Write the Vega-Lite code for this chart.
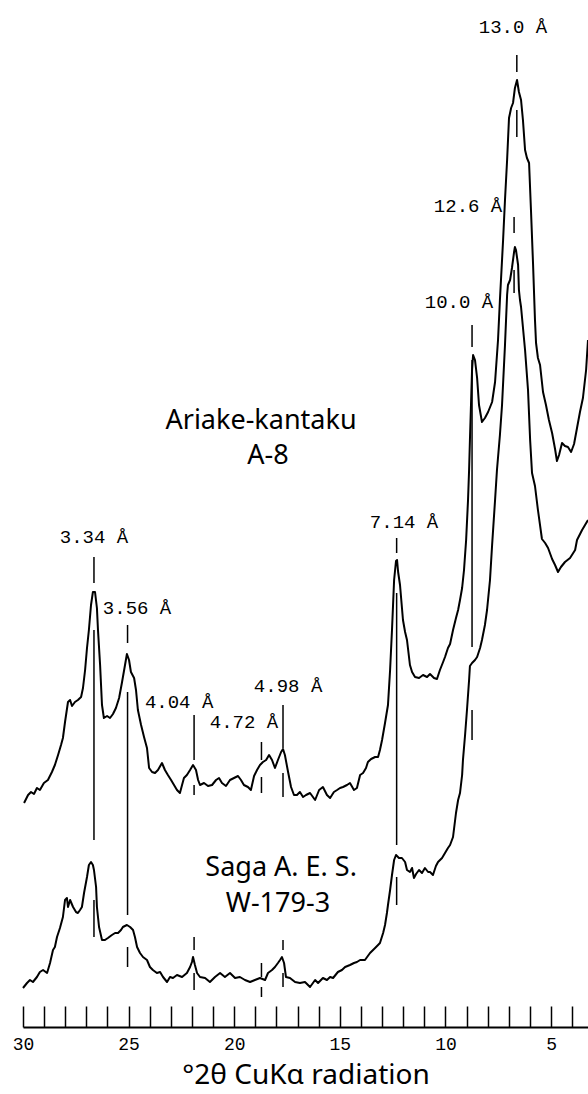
{
  "$schema": "https://vega.github.io/schema/vega-lite/v6.json",
  "width": 565,
  "height": 1027,
  "autosize": {"type": "none"},
  "padding": {"left": 23, "top": 0, "right": 0, "bottom": 67},
  "background": "white",
  "config": {"view": {"stroke": null}},
  "datasets": {
    "traces": [
      {"sample": "A-8", "theta": 29.95, "intensity": 224},
      {"sample": "A-8", "theta": 29.76, "intensity": 232},
      {"sample": "A-8", "theta": 29.62, "intensity": 235},
      {"sample": "A-8", "theta": 29.48, "intensity": 233},
      {"sample": "A-8", "theta": 29.34, "intensity": 239},
      {"sample": "A-8", "theta": 29.20, "intensity": 237},
      {"sample": "A-8", "theta": 29.01, "intensity": 244},
      {"sample": "A-8", "theta": 28.82, "intensity": 247},
      {"sample": "A-8", "theta": 28.63, "intensity": 255},
      {"sample": "A-8", "theta": 28.49, "intensity": 262},
      {"sample": "A-8", "theta": 28.34, "intensity": 272},
      {"sample": "A-8", "theta": 28.20, "intensity": 282},
      {"sample": "A-8", "theta": 28.11, "intensity": 289},
      {"sample": "A-8", "theta": 28.01, "intensity": 305},
      {"sample": "A-8", "theta": 27.87, "intensity": 325},
      {"sample": "A-8", "theta": 27.77, "intensity": 327},
      {"sample": "A-8", "theta": 27.68, "intensity": 321},
      {"sample": "A-8", "theta": 27.54, "intensity": 325},
      {"sample": "A-8", "theta": 27.40, "intensity": 327},
      {"sample": "A-8", "theta": 27.25, "intensity": 330},
      {"sample": "A-8", "theta": 27.16, "intensity": 339},
      {"sample": "A-8", "theta": 27.06, "intensity": 357},
      {"sample": "A-8", "theta": 26.97, "intensity": 379},
      {"sample": "A-8", "theta": 26.88, "intensity": 397},
      {"sample": "A-8", "theta": 26.78, "intensity": 422},
      {"sample": "A-8", "theta": 26.69, "intensity": 435},
      {"sample": "A-8", "theta": 26.59, "intensity": 435},
      {"sample": "A-8", "theta": 26.50, "intensity": 419},
      {"sample": "A-8", "theta": 26.45, "intensity": 397},
      {"sample": "A-8", "theta": 26.35, "intensity": 362},
      {"sample": "A-8", "theta": 26.26, "intensity": 322},
      {"sample": "A-8", "theta": 26.17, "intensity": 309},
      {"sample": "A-8", "theta": 26.02, "intensity": 311},
      {"sample": "A-8", "theta": 25.88, "intensity": 309},
      {"sample": "A-8", "theta": 25.74, "intensity": 313},
      {"sample": "A-8", "theta": 25.60, "intensity": 319},
      {"sample": "A-8", "theta": 25.45, "intensity": 329},
      {"sample": "A-8", "theta": 25.31, "intensity": 345},
      {"sample": "A-8", "theta": 25.17, "intensity": 362},
      {"sample": "A-8", "theta": 25.08, "intensity": 373},
      {"sample": "A-8", "theta": 24.98, "intensity": 367},
      {"sample": "A-8", "theta": 24.89, "intensity": 355},
      {"sample": "A-8", "theta": 24.74, "intensity": 349},
      {"sample": "A-8", "theta": 24.65, "intensity": 337},
      {"sample": "A-8", "theta": 24.56, "intensity": 317},
      {"sample": "A-8", "theta": 24.41, "intensity": 302},
      {"sample": "A-8", "theta": 24.27, "intensity": 290},
      {"sample": "A-8", "theta": 24.13, "intensity": 279},
      {"sample": "A-8", "theta": 24.03, "intensity": 259},
      {"sample": "A-8", "theta": 23.89, "intensity": 255},
      {"sample": "A-8", "theta": 23.75, "intensity": 254},
      {"sample": "A-8", "theta": 23.61, "intensity": 257},
      {"sample": "A-8", "theta": 23.42, "intensity": 264},
      {"sample": "A-8", "theta": 23.28, "intensity": 257},
      {"sample": "A-8", "theta": 23.14, "intensity": 252},
      {"sample": "A-8", "theta": 22.99, "intensity": 247},
      {"sample": "A-8", "theta": 22.85, "intensity": 242},
      {"sample": "A-8", "theta": 22.71, "intensity": 237},
      {"sample": "A-8", "theta": 22.57, "intensity": 234},
      {"sample": "A-8", "theta": 22.47, "intensity": 242},
      {"sample": "A-8", "theta": 22.38, "intensity": 249},
      {"sample": "A-8", "theta": 22.24, "intensity": 252},
      {"sample": "A-8", "theta": 22.09, "intensity": 257},
      {"sample": "A-8", "theta": 21.95, "intensity": 262},
      {"sample": "A-8", "theta": 21.81, "intensity": 257},
      {"sample": "A-8", "theta": 21.71, "intensity": 247},
      {"sample": "A-8", "theta": 21.62, "intensity": 242},
      {"sample": "A-8", "theta": 21.43, "intensity": 244},
      {"sample": "A-8", "theta": 21.24, "intensity": 241},
      {"sample": "A-8", "theta": 21.05, "intensity": 242},
      {"sample": "A-8", "theta": 20.86, "intensity": 247},
      {"sample": "A-8", "theta": 20.72, "intensity": 249},
      {"sample": "A-8", "theta": 20.58, "intensity": 244},
      {"sample": "A-8", "theta": 20.39, "intensity": 241},
      {"sample": "A-8", "theta": 20.20, "intensity": 247},
      {"sample": "A-8", "theta": 20.01, "intensity": 249},
      {"sample": "A-8", "theta": 19.82, "intensity": 251},
      {"sample": "A-8", "theta": 19.68, "intensity": 247},
      {"sample": "A-8", "theta": 19.54, "intensity": 242},
      {"sample": "A-8", "theta": 19.35, "intensity": 240},
      {"sample": "A-8", "theta": 19.21, "intensity": 237},
      {"sample": "A-8", "theta": 19.06, "intensity": 251},
      {"sample": "A-8", "theta": 18.92, "intensity": 257},
      {"sample": "A-8", "theta": 18.78, "intensity": 262},
      {"sample": "A-8", "theta": 18.64, "intensity": 265},
      {"sample": "A-8", "theta": 18.49, "intensity": 267},
      {"sample": "A-8", "theta": 18.35, "intensity": 272},
      {"sample": "A-8", "theta": 18.21, "intensity": 267},
      {"sample": "A-8", "theta": 18.07, "intensity": 259},
      {"sample": "A-8", "theta": 17.93, "intensity": 267},
      {"sample": "A-8", "theta": 17.78, "intensity": 275},
      {"sample": "A-8", "theta": 17.69, "intensity": 278},
      {"sample": "A-8", "theta": 17.60, "intensity": 272},
      {"sample": "A-8", "theta": 17.45, "intensity": 255},
      {"sample": "A-8", "theta": 17.31, "intensity": 240},
      {"sample": "A-8", "theta": 17.17, "intensity": 232},
      {"sample": "A-8", "theta": 17.03, "intensity": 232},
      {"sample": "A-8", "theta": 16.89, "intensity": 235},
      {"sample": "A-8", "theta": 16.74, "intensity": 230},
      {"sample": "A-8", "theta": 16.60, "intensity": 232},
      {"sample": "A-8", "theta": 16.41, "intensity": 234},
      {"sample": "A-8", "theta": 16.17, "intensity": 227},
      {"sample": "A-8", "theta": 15.98, "intensity": 237},
      {"sample": "A-8", "theta": 15.80, "intensity": 240},
      {"sample": "A-8", "theta": 15.61, "intensity": 232},
      {"sample": "A-8", "theta": 15.46, "intensity": 229},
      {"sample": "A-8", "theta": 15.28, "intensity": 235},
      {"sample": "A-8", "theta": 15.13, "intensity": 237},
      {"sample": "A-8", "theta": 14.99, "intensity": 239},
      {"sample": "A-8", "theta": 14.85, "intensity": 240},
      {"sample": "A-8", "theta": 14.66, "intensity": 242},
      {"sample": "A-8", "theta": 14.52, "intensity": 244},
      {"sample": "A-8", "theta": 14.33, "intensity": 237},
      {"sample": "A-8", "theta": 14.19, "intensity": 239},
      {"sample": "A-8", "theta": 14.04, "intensity": 252},
      {"sample": "A-8", "theta": 13.90, "intensity": 254},
      {"sample": "A-8", "theta": 13.76, "intensity": 259},
      {"sample": "A-8", "theta": 13.67, "intensity": 265},
      {"sample": "A-8", "theta": 13.52, "intensity": 268},
      {"sample": "A-8", "theta": 13.33, "intensity": 270},
      {"sample": "A-8", "theta": 13.19, "intensity": 270},
      {"sample": "A-8", "theta": 13.10, "intensity": 277},
      {"sample": "A-8", "theta": 13.00, "intensity": 287},
      {"sample": "A-8", "theta": 12.86, "intensity": 304},
      {"sample": "A-8", "theta": 12.72, "intensity": 322},
      {"sample": "A-8", "theta": 12.62, "intensity": 357},
      {"sample": "A-8", "theta": 12.53, "intensity": 397},
      {"sample": "A-8", "theta": 12.48, "intensity": 422},
      {"sample": "A-8", "theta": 12.43, "intensity": 447},
      {"sample": "A-8", "theta": 12.34, "intensity": 466},
      {"sample": "A-8", "theta": 12.29, "intensity": 467},
      {"sample": "A-8", "theta": 12.24, "intensity": 455},
      {"sample": "A-8", "theta": 12.15, "intensity": 442},
      {"sample": "A-8", "theta": 12.01, "intensity": 407},
      {"sample": "A-8", "theta": 11.91, "intensity": 395},
      {"sample": "A-8", "theta": 11.82, "intensity": 387},
      {"sample": "A-8", "theta": 11.68, "intensity": 362},
      {"sample": "A-8", "theta": 11.58, "intensity": 355},
      {"sample": "A-8", "theta": 11.44, "intensity": 350},
      {"sample": "A-8", "theta": 11.25, "intensity": 349},
      {"sample": "A-8", "theta": 11.06, "intensity": 352},
      {"sample": "A-8", "theta": 10.87, "intensity": 350},
      {"sample": "A-8", "theta": 10.73, "intensity": 353},
      {"sample": "A-8", "theta": 10.54, "intensity": 349},
      {"sample": "A-8", "theta": 10.40, "intensity": 348},
      {"sample": "A-8", "theta": 10.26, "intensity": 357},
      {"sample": "A-8", "theta": 10.11, "intensity": 365},
      {"sample": "A-8", "theta": 10.02, "intensity": 370},
      {"sample": "A-8", "theta": 9.88, "intensity": 379},
      {"sample": "A-8", "theta": 9.78, "intensity": 383},
      {"sample": "A-8", "theta": 9.64, "intensity": 397},
      {"sample": "A-8", "theta": 9.50, "intensity": 409},
      {"sample": "A-8", "theta": 9.40, "intensity": 417},
      {"sample": "A-8", "theta": 9.31, "intensity": 427},
      {"sample": "A-8", "theta": 9.21, "intensity": 439},
      {"sample": "A-8", "theta": 9.12, "intensity": 457},
      {"sample": "A-8", "theta": 9.02, "intensity": 487},
      {"sample": "A-8", "theta": 8.93, "intensity": 527},
      {"sample": "A-8", "theta": 8.88, "intensity": 557},
      {"sample": "A-8", "theta": 8.84, "intensity": 587},
      {"sample": "A-8", "theta": 8.79, "intensity": 622},
      {"sample": "A-8", "theta": 8.74, "intensity": 657},
      {"sample": "A-8", "theta": 8.69, "intensity": 672},
      {"sample": "A-8", "theta": 8.60, "intensity": 667},
      {"sample": "A-8", "theta": 8.50, "intensity": 649},
      {"sample": "A-8", "theta": 8.41, "intensity": 622},
      {"sample": "A-8", "theta": 8.27, "intensity": 605},
      {"sample": "A-8", "theta": 8.13, "intensity": 609},
      {"sample": "A-8", "theta": 7.98, "intensity": 615},
      {"sample": "A-8", "theta": 7.79, "intensity": 625},
      {"sample": "A-8", "theta": 7.65, "intensity": 645},
      {"sample": "A-8", "theta": 7.51, "intensity": 687},
      {"sample": "A-8", "theta": 7.42, "intensity": 727},
      {"sample": "A-8", "theta": 7.27, "intensity": 787},
      {"sample": "A-8", "theta": 7.18, "intensity": 827},
      {"sample": "A-8", "theta": 7.08, "intensity": 867},
      {"sample": "A-8", "theta": 6.99, "intensity": 909},
      {"sample": "A-8", "theta": 6.89, "intensity": 919},
      {"sample": "A-8", "theta": 6.80, "intensity": 924},
      {"sample": "A-8", "theta": 6.71, "intensity": 939},
      {"sample": "A-8", "theta": 6.61, "intensity": 947},
      {"sample": "A-8", "theta": 6.52, "intensity": 935},
      {"sample": "A-8", "theta": 6.42, "intensity": 927},
      {"sample": "A-8", "theta": 6.33, "intensity": 907},
      {"sample": "A-8", "theta": 6.23, "intensity": 877},
      {"sample": "A-8", "theta": 6.14, "intensity": 869},
      {"sample": "A-8", "theta": 6.04, "intensity": 864},
      {"sample": "A-8", "theta": 5.95, "intensity": 817},
      {"sample": "A-8", "theta": 5.85, "intensity": 762},
      {"sample": "A-8", "theta": 5.76, "intensity": 707},
      {"sample": "A-8", "theta": 5.71, "intensity": 684},
      {"sample": "A-8", "theta": 5.62, "intensity": 669},
      {"sample": "A-8", "theta": 5.52, "intensity": 662},
      {"sample": "A-8", "theta": 5.38, "intensity": 635},
      {"sample": "A-8", "theta": 5.24, "intensity": 622},
      {"sample": "A-8", "theta": 5.10, "intensity": 607},
      {"sample": "A-8", "theta": 4.95, "intensity": 594},
      {"sample": "A-8", "theta": 4.81, "intensity": 578},
      {"sample": "A-8", "theta": 4.72, "intensity": 566},
      {"sample": "A-8", "theta": 4.62, "intensity": 572},
      {"sample": "A-8", "theta": 4.48, "intensity": 584},
      {"sample": "A-8", "theta": 4.34, "intensity": 581},
      {"sample": "A-8", "theta": 4.20, "intensity": 580},
      {"sample": "A-8", "theta": 4.05, "intensity": 575},
      {"sample": "A-8", "theta": 3.91, "intensity": 583},
      {"sample": "A-8", "theta": 3.77, "intensity": 599},
      {"sample": "A-8", "theta": 3.63, "intensity": 615},
      {"sample": "A-8", "theta": 3.49, "intensity": 629},
      {"sample": "A-8", "theta": 3.34, "intensity": 657},
      {"sample": "A-8", "theta": 3.25, "intensity": 687},
      {"sample": "W-179-3", "theta": 30.00, "intensity": 39},
      {"sample": "W-179-3", "theta": 29.81, "intensity": 44},
      {"sample": "W-179-3", "theta": 29.67, "intensity": 47},
      {"sample": "W-179-3", "theta": 29.53, "intensity": 45},
      {"sample": "W-179-3", "theta": 29.34, "intensity": 50},
      {"sample": "W-179-3", "theta": 29.20, "intensity": 55},
      {"sample": "W-179-3", "theta": 29.05, "intensity": 57},
      {"sample": "W-179-3", "theta": 28.86, "intensity": 54},
      {"sample": "W-179-3", "theta": 28.72, "intensity": 64},
      {"sample": "W-179-3", "theta": 28.58, "intensity": 77},
      {"sample": "W-179-3", "theta": 28.49, "intensity": 80},
      {"sample": "W-179-3", "theta": 28.39, "intensity": 90},
      {"sample": "W-179-3", "theta": 28.25, "intensity": 99},
      {"sample": "W-179-3", "theta": 28.11, "intensity": 110},
      {"sample": "W-179-3", "theta": 28.01, "intensity": 127},
      {"sample": "W-179-3", "theta": 27.92, "intensity": 129},
      {"sample": "W-179-3", "theta": 27.87, "intensity": 120},
      {"sample": "W-179-3", "theta": 27.77, "intensity": 127},
      {"sample": "W-179-3", "theta": 27.63, "intensity": 120},
      {"sample": "W-179-3", "theta": 27.49, "intensity": 115},
      {"sample": "W-179-3", "theta": 27.40, "intensity": 114},
      {"sample": "W-179-3", "theta": 27.30, "intensity": 117},
      {"sample": "W-179-3", "theta": 27.21, "intensity": 120},
      {"sample": "W-179-3", "theta": 27.11, "intensity": 134},
      {"sample": "W-179-3", "theta": 26.97, "intensity": 150},
      {"sample": "W-179-3", "theta": 26.88, "intensity": 162},
      {"sample": "W-179-3", "theta": 26.78, "intensity": 165},
      {"sample": "W-179-3", "theta": 26.69, "intensity": 162},
      {"sample": "W-179-3", "theta": 26.64, "intensity": 157},
      {"sample": "W-179-3", "theta": 26.54, "intensity": 140},
      {"sample": "W-179-3", "theta": 26.50, "intensity": 120},
      {"sample": "W-179-3", "theta": 26.40, "intensity": 100},
      {"sample": "W-179-3", "theta": 26.26, "intensity": 87},
      {"sample": "W-179-3", "theta": 26.12, "intensity": 87},
      {"sample": "W-179-3", "theta": 25.98, "intensity": 89},
      {"sample": "W-179-3", "theta": 25.79, "intensity": 92},
      {"sample": "W-179-3", "theta": 25.64, "intensity": 94},
      {"sample": "W-179-3", "theta": 25.50, "intensity": 94},
      {"sample": "W-179-3", "theta": 25.36, "intensity": 97},
      {"sample": "W-179-3", "theta": 25.27, "intensity": 100},
      {"sample": "W-179-3", "theta": 25.08, "intensity": 102},
      {"sample": "W-179-3", "theta": 24.93, "intensity": 100},
      {"sample": "W-179-3", "theta": 24.79, "intensity": 97},
      {"sample": "W-179-3", "theta": 24.70, "intensity": 90},
      {"sample": "W-179-3", "theta": 24.60, "intensity": 80},
      {"sample": "W-179-3", "theta": 24.46, "intensity": 74},
      {"sample": "W-179-3", "theta": 24.32, "intensity": 70},
      {"sample": "W-179-3", "theta": 24.13, "intensity": 67},
      {"sample": "W-179-3", "theta": 23.99, "intensity": 60},
      {"sample": "W-179-3", "theta": 23.85, "intensity": 57},
      {"sample": "W-179-3", "theta": 23.66, "intensity": 54},
      {"sample": "W-179-3", "theta": 23.51, "intensity": 55},
      {"sample": "W-179-3", "theta": 23.37, "intensity": 50},
      {"sample": "W-179-3", "theta": 23.18, "intensity": 45},
      {"sample": "W-179-3", "theta": 23.04, "intensity": 50},
      {"sample": "W-179-3", "theta": 22.90, "intensity": 49},
      {"sample": "W-179-3", "theta": 22.71, "intensity": 52},
      {"sample": "W-179-3", "theta": 22.47, "intensity": 50},
      {"sample": "W-179-3", "theta": 22.24, "intensity": 54},
      {"sample": "W-179-3", "theta": 22.09, "intensity": 60},
      {"sample": "W-179-3", "theta": 22.00, "intensity": 65},
      {"sample": "W-179-3", "theta": 21.95, "intensity": 70},
      {"sample": "W-179-3", "theta": 21.86, "intensity": 62},
      {"sample": "W-179-3", "theta": 21.76, "intensity": 54},
      {"sample": "W-179-3", "theta": 21.62, "intensity": 50},
      {"sample": "W-179-3", "theta": 21.38, "intensity": 49},
      {"sample": "W-179-3", "theta": 21.15, "intensity": 45},
      {"sample": "W-179-3", "theta": 20.91, "intensity": 50},
      {"sample": "W-179-3", "theta": 20.67, "intensity": 54},
      {"sample": "W-179-3", "theta": 20.44, "intensity": 50},
      {"sample": "W-179-3", "theta": 20.20, "intensity": 54},
      {"sample": "W-179-3", "theta": 19.96, "intensity": 49},
      {"sample": "W-179-3", "theta": 19.73, "intensity": 50},
      {"sample": "W-179-3", "theta": 19.49, "intensity": 47},
      {"sample": "W-179-3", "theta": 19.25, "intensity": 45},
      {"sample": "W-179-3", "theta": 19.02, "intensity": 47},
      {"sample": "W-179-3", "theta": 18.78, "intensity": 49},
      {"sample": "W-179-3", "theta": 18.54, "intensity": 47},
      {"sample": "W-179-3", "theta": 18.40, "intensity": 54},
      {"sample": "W-179-3", "theta": 18.21, "intensity": 57},
      {"sample": "W-179-3", "theta": 18.07, "intensity": 60},
      {"sample": "W-179-3", "theta": 17.93, "intensity": 64},
      {"sample": "W-179-3", "theta": 17.83, "intensity": 67},
      {"sample": "W-179-3", "theta": 17.74, "intensity": 70},
      {"sample": "W-179-3", "theta": 17.64, "intensity": 64},
      {"sample": "W-179-3", "theta": 17.55, "intensity": 50},
      {"sample": "W-179-3", "theta": 17.36, "intensity": 49},
      {"sample": "W-179-3", "theta": 17.12, "intensity": 45},
      {"sample": "W-179-3", "theta": 16.89, "intensity": 44},
      {"sample": "W-179-3", "theta": 16.65, "intensity": 45},
      {"sample": "W-179-3", "theta": 16.41, "intensity": 40},
      {"sample": "W-179-3", "theta": 16.17, "intensity": 47},
      {"sample": "W-179-3", "theta": 16.03, "intensity": 44},
      {"sample": "W-179-3", "theta": 15.80, "intensity": 49},
      {"sample": "W-179-3", "theta": 15.61, "intensity": 47},
      {"sample": "W-179-3", "theta": 15.46, "intensity": 50},
      {"sample": "W-179-3", "theta": 15.32, "intensity": 49},
      {"sample": "W-179-3", "theta": 15.09, "intensity": 55},
      {"sample": "W-179-3", "theta": 14.90, "intensity": 57},
      {"sample": "W-179-3", "theta": 14.75, "intensity": 60},
      {"sample": "W-179-3", "theta": 14.52, "intensity": 62},
      {"sample": "W-179-3", "theta": 14.33, "intensity": 64},
      {"sample": "W-179-3", "theta": 14.19, "intensity": 65},
      {"sample": "W-179-3", "theta": 14.04, "intensity": 67},
      {"sample": "W-179-3", "theta": 13.81, "intensity": 67},
      {"sample": "W-179-3", "theta": 13.57, "intensity": 74},
      {"sample": "W-179-3", "theta": 13.33, "intensity": 79},
      {"sample": "W-179-3", "theta": 13.19, "intensity": 82},
      {"sample": "W-179-3", "theta": 13.10, "intensity": 84},
      {"sample": "W-179-3", "theta": 12.95, "intensity": 94},
      {"sample": "W-179-3", "theta": 12.86, "intensity": 102},
      {"sample": "W-179-3", "theta": 12.77, "intensity": 114},
      {"sample": "W-179-3", "theta": 12.72, "intensity": 122},
      {"sample": "W-179-3", "theta": 12.62, "intensity": 137},
      {"sample": "W-179-3", "theta": 12.53, "intensity": 152},
      {"sample": "W-179-3", "theta": 12.43, "intensity": 167},
      {"sample": "W-179-3", "theta": 12.34, "intensity": 172},
      {"sample": "W-179-3", "theta": 12.20, "intensity": 169},
      {"sample": "W-179-3", "theta": 12.06, "intensity": 169},
      {"sample": "W-179-3", "theta": 11.91, "intensity": 165},
      {"sample": "W-179-3", "theta": 11.82, "intensity": 157},
      {"sample": "W-179-3", "theta": 11.68, "intensity": 155},
      {"sample": "W-179-3", "theta": 11.58, "intensity": 159},
      {"sample": "W-179-3", "theta": 11.49, "intensity": 149},
      {"sample": "W-179-3", "theta": 11.39, "intensity": 153},
      {"sample": "W-179-3", "theta": 11.25, "intensity": 157},
      {"sample": "W-179-3", "theta": 11.11, "intensity": 154},
      {"sample": "W-179-3", "theta": 10.97, "intensity": 159},
      {"sample": "W-179-3", "theta": 10.82, "intensity": 155},
      {"sample": "W-179-3", "theta": 10.73, "intensity": 155},
      {"sample": "W-179-3", "theta": 10.59, "intensity": 152},
      {"sample": "W-179-3", "theta": 10.45, "intensity": 161},
      {"sample": "W-179-3", "theta": 10.35, "intensity": 165},
      {"sample": "W-179-3", "theta": 10.16, "intensity": 169},
      {"sample": "W-179-3", "theta": 10.02, "intensity": 174},
      {"sample": "W-179-3", "theta": 9.88, "intensity": 179},
      {"sample": "W-179-3", "theta": 9.78, "intensity": 182},
      {"sample": "W-179-3", "theta": 9.64, "intensity": 190},
      {"sample": "W-179-3", "theta": 9.50, "intensity": 214},
      {"sample": "W-179-3", "theta": 9.40, "intensity": 227},
      {"sample": "W-179-3", "theta": 9.31, "intensity": 234},
      {"sample": "W-179-3", "theta": 9.21, "intensity": 252},
      {"sample": "W-179-3", "theta": 9.17, "intensity": 267},
      {"sample": "W-179-3", "theta": 9.07, "intensity": 292},
      {"sample": "W-179-3", "theta": 8.98, "intensity": 317},
      {"sample": "W-179-3", "theta": 8.88, "intensity": 347},
      {"sample": "W-179-3", "theta": 8.84, "intensity": 361},
      {"sample": "W-179-3", "theta": 8.74, "intensity": 364},
      {"sample": "W-179-3", "theta": 8.60, "intensity": 367},
      {"sample": "W-179-3", "theta": 8.50, "intensity": 370},
      {"sample": "W-179-3", "theta": 8.36, "intensity": 379},
      {"sample": "W-179-3", "theta": 8.27, "intensity": 387},
      {"sample": "W-179-3", "theta": 8.13, "intensity": 402},
      {"sample": "W-179-3", "theta": 8.03, "intensity": 417},
      {"sample": "W-179-3", "theta": 7.89, "intensity": 447},
      {"sample": "W-179-3", "theta": 7.79, "intensity": 482},
      {"sample": "W-179-3", "theta": 7.65, "intensity": 527},
      {"sample": "W-179-3", "theta": 7.56, "intensity": 557},
      {"sample": "W-179-3", "theta": 7.42, "intensity": 592},
      {"sample": "W-179-3", "theta": 7.32, "intensity": 622},
      {"sample": "W-179-3", "theta": 7.18, "intensity": 682},
      {"sample": "W-179-3", "theta": 7.08, "intensity": 732},
      {"sample": "W-179-3", "theta": 7.04, "intensity": 742},
      {"sample": "W-179-3", "theta": 6.94, "intensity": 747},
      {"sample": "W-179-3", "theta": 6.85, "intensity": 759},
      {"sample": "W-179-3", "theta": 6.75, "intensity": 775},
      {"sample": "W-179-3", "theta": 6.71, "intensity": 780},
      {"sample": "W-179-3", "theta": 6.66, "intensity": 777},
      {"sample": "W-179-3", "theta": 6.56, "intensity": 762},
      {"sample": "W-179-3", "theta": 6.52, "intensity": 737},
      {"sample": "W-179-3", "theta": 6.47, "intensity": 727},
      {"sample": "W-179-3", "theta": 6.42, "intensity": 720},
      {"sample": "W-179-3", "theta": 6.23, "intensity": 677},
      {"sample": "W-179-3", "theta": 6.09, "intensity": 637},
      {"sample": "W-179-3", "theta": 5.99, "intensity": 587},
      {"sample": "W-179-3", "theta": 5.90, "intensity": 554},
      {"sample": "W-179-3", "theta": 5.76, "intensity": 541},
      {"sample": "W-179-3", "theta": 5.62, "intensity": 517},
      {"sample": "W-179-3", "theta": 5.43, "intensity": 488},
      {"sample": "W-179-3", "theta": 5.28, "intensity": 484},
      {"sample": "W-179-3", "theta": 5.14, "intensity": 479},
      {"sample": "W-179-3", "theta": 4.95, "intensity": 468},
      {"sample": "W-179-3", "theta": 4.81, "intensity": 462},
      {"sample": "W-179-3", "theta": 4.67, "intensity": 455},
      {"sample": "W-179-3", "theta": 4.53, "intensity": 460},
      {"sample": "W-179-3", "theta": 4.34, "intensity": 465},
      {"sample": "W-179-3", "theta": 4.10, "intensity": 469},
      {"sample": "W-179-3", "theta": 3.86, "intensity": 477},
      {"sample": "W-179-3", "theta": 3.77, "intensity": 487},
      {"sample": "W-179-3", "theta": 3.53, "intensity": 497},
      {"sample": "W-179-3", "theta": 3.39, "intensity": 502},
      {"sample": "W-179-3", "theta": 3.25, "intensity": 507}
    ],
    "marks": [
      {"peak": "3.34", "theta": 26.64, "lo": 444, "hi": 470},
      {"peak": "3.34", "theta": 26.64, "lo": 187, "hi": 397},
      {"peak": "3.34", "theta": 26.64, "lo": 90, "hi": 127},
      {"peak": "3.56", "theta": 25.05, "lo": 384, "hi": 402},
      {"peak": "3.56", "theta": 25.05, "lo": 112, "hi": 335},
      {"peak": "3.56", "theta": 25.05, "lo": 60, "hi": 80},
      {"peak": "4.04", "theta": 21.90, "lo": 267, "hi": 312},
      {"peak": "4.04", "theta": 21.90, "lo": 232, "hi": 242},
      {"peak": "4.04", "theta": 21.90, "lo": 77, "hi": 90},
      {"peak": "4.04", "theta": 21.90, "lo": 37, "hi": 54},
      {"peak": "4.72", "theta": 18.71, "lo": 267, "hi": 285},
      {"peak": "4.72", "theta": 18.71, "lo": 234, "hi": 250},
      {"peak": "4.72", "theta": 18.71, "lo": 50, "hi": 64},
      {"peak": "4.72", "theta": 18.71, "lo": 30, "hi": 40},
      {"peak": "4.98", "theta": 17.69, "lo": 279, "hi": 322},
      {"peak": "4.98", "theta": 17.69, "lo": 230, "hi": 254},
      {"peak": "4.98", "theta": 17.69, "lo": 77, "hi": 87},
      {"peak": "4.98", "theta": 17.69, "lo": 40, "hi": 54},
      {"peak": "7.14", "theta": 12.31, "lo": 474, "hi": 489},
      {"peak": "7.14", "theta": 12.31, "lo": 182, "hi": 434},
      {"peak": "7.14", "theta": 12.31, "lo": 122, "hi": 150},
      {"peak": "10.0", "theta": 8.74, "lo": 680, "hi": 702},
      {"peak": "10.0", "theta": 8.74, "lo": 380, "hi": 667},
      {"peak": "10.0", "theta": 8.74, "lo": 287, "hi": 317},
      {"peak": "13.0", "theta": 6.62, "lo": 955, "hi": 972},
      {"peak": "13.0", "theta": 6.62, "lo": 890, "hi": 917},
      {"peak": "12.6", "theta": 6.75, "lo": 794, "hi": 810},
      {"peak": "12.6", "theta": 6.75, "lo": 734, "hi": 757}
    ],
    "dlabels": [
      {"text": "13.0 Å", "theta": 6.80, "intensity": 1000},
      {"text": "12.6 Å", "theta": 8.93, "intensity": 821},
      {"text": "10.0 Å", "theta": 9.36, "intensity": 725},
      {"text": "7.14 Å", "theta": 11.96, "intensity": 505},
      {"text": "3.34 Å", "theta": 26.64, "intensity": 490},
      {"text": "3.56 Å", "theta": 24.60, "intensity": 419},
      {"text": "4.04 Å", "theta": 22.61, "intensity": 325},
      {"text": "4.72 Å", "theta": 19.54, "intensity": 305},
      {"text": "4.98 Å", "theta": 17.45, "intensity": 341}
    ],
    "names": [
      {"text": "Ariake-kantaku", "theta": 18.73, "intensity": 606},
      {"text": "A-8", "theta": 18.40, "intensity": 571},
      {"text": "Saga A. E. S.", "theta": 17.78, "intensity": 159},
      {"text": "W-179-3", "theta": 17.93, "intensity": 123}
    ]
  },
  "encoding": {
    "x": {
      "field": "theta", "type": "quantitative",
      "scale": {"domain": [3.25, 30], "reverse": true, "nice": false, "zero": false},
      "axis": {
        "orient": "bottom",
        "values": [4,5,6,7,8,9,10,11,12,13,14,15,16,17,18,19,20,21,22,23,24,25,26,27,28,29,30],
        "labelExpr": "datum.value % 5 === 0 ? datum.label : ''",
        "grid": false,
        "tickSize": -21,
        "tickWidth": 1.5,
        "tickColor": "black",
        "domainColor": "black",
        "domainWidth": 2,
        "labelFont": "Liberation Mono",
        "labelFontSize": 18,
        "labelColor": "black",
        "labelPadding": 29,
        "labelFlush": false,
        "labelOverlap": false,
        "title": "°2θ CuKα radiation",
        "titleFont": "Noto Sans",
        "titleFontSize": 28,
        "titleFontWeight": "normal",
        "titleColor": "black",
        "titlePadding": 8
      }
    },
    "y": {
      "field": "intensity", "type": "quantitative",
      "scale": {"domain": [0, 1027], "nice": false, "zero": true},
      "axis": null
    }
  },
  "layer": [
    {
      "data": {"name": "traces"},
      "mark": {"type": "line", "color": "black", "strokeWidth": 2, "strokeJoin": "round"},
      "encoding": {"detail": {"field": "sample", "type": "nominal"}}
    },
    {
      "data": {"name": "marks"},
      "mark": {"type": "rule", "color": "black", "strokeWidth": 1.5},
      "encoding": {
        "y": {"field": "lo", "type": "quantitative"},
        "y2": {"field": "hi"}
      }
    },
    {
      "data": {"name": "dlabels"},
      "mark": {"type": "text", "font": "Liberation Mono", "fontSize": 19, "color": "black", "align": "center", "baseline": "middle"},
      "encoding": {"text": {"field": "text"}}
    },
    {
      "data": {"name": "names"},
      "mark": {"type": "text", "font": "Noto Sans", "fontSize": 27, "color": "black", "align": "center", "baseline": "middle"},
      "encoding": {"text": {"field": "text"}}
    }
  ]
}
